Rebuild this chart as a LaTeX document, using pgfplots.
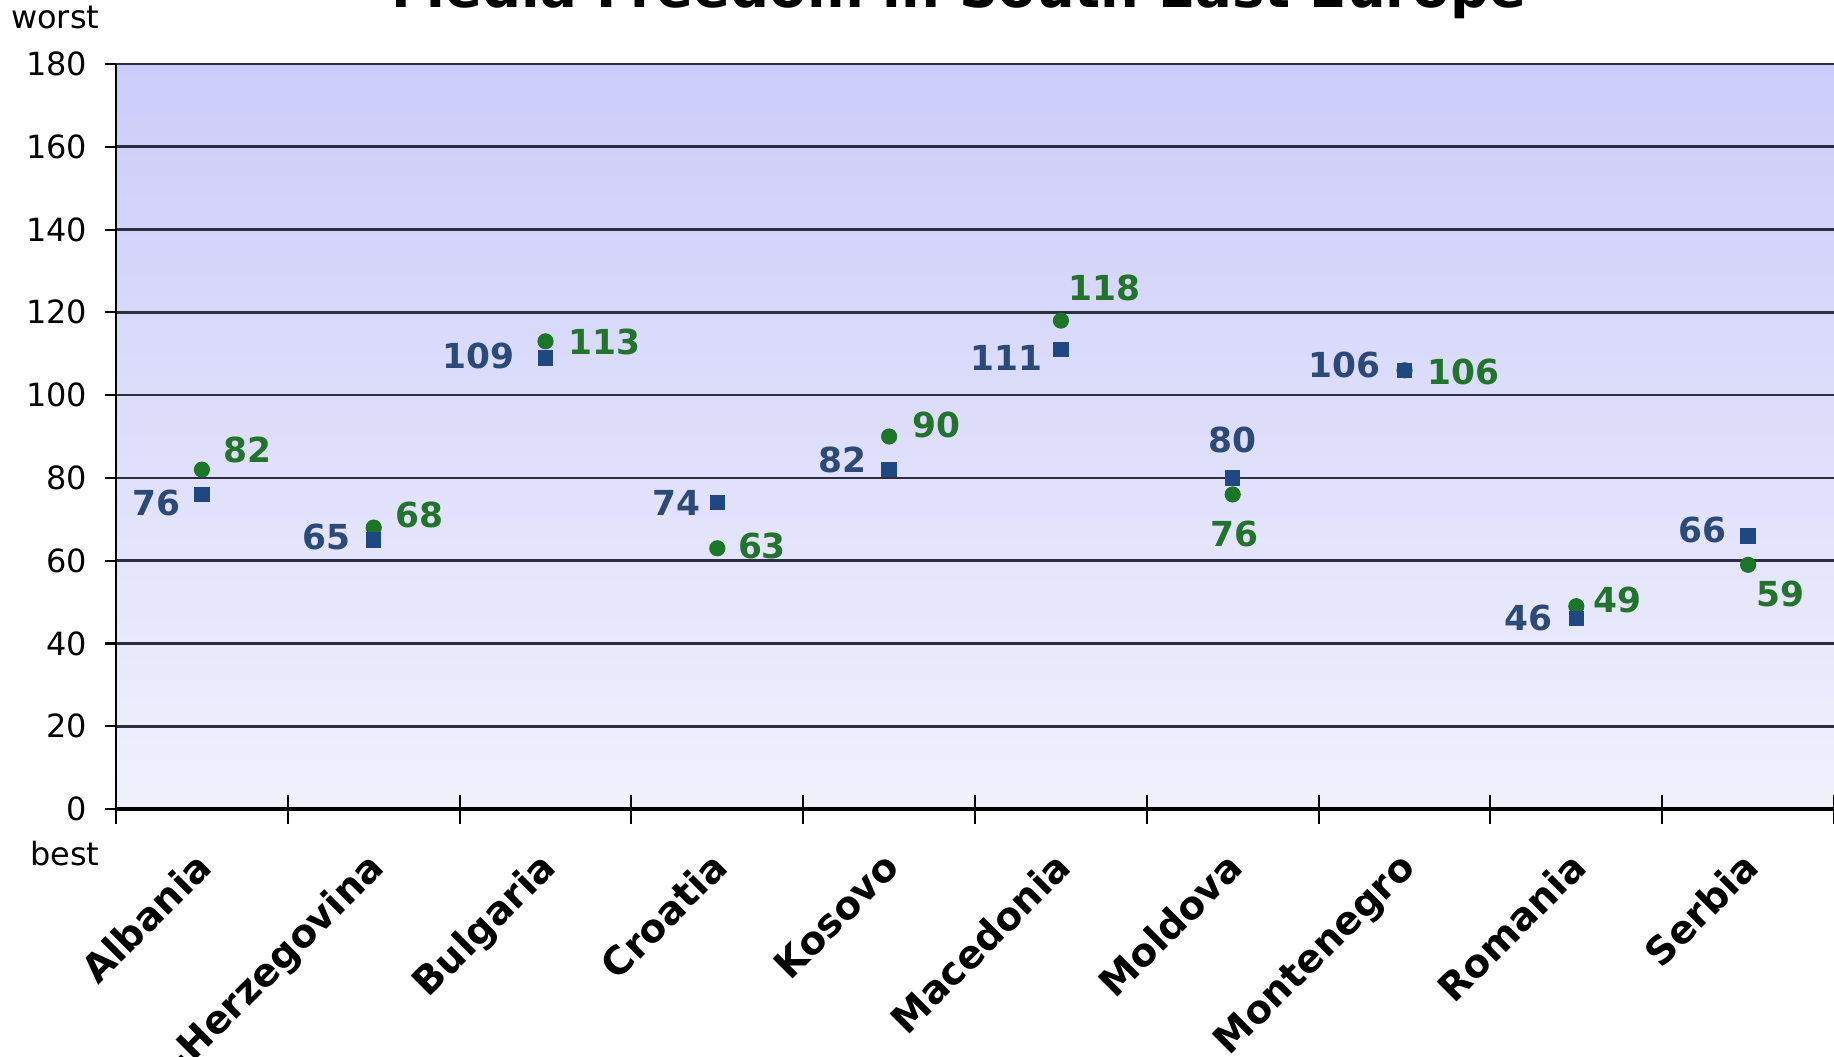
\documentclass[border=0pt]{standalone}
\usepackage{pgfplots}
\pgfplotsset{compat=1.18}
\usepackage{fontspec}
\setmainfont{DejaVu Sans}
\definecolor{sqblue}{RGB}{31,72,130}
\definecolor{lblblue}{RGB}{44,74,120}
\definecolor{cgreen}{RGB}{28,118,40}
\definecolor{lblgreen}{RGB}{34,116,44}
\definecolor{bgtop}{RGB}{204,204,250}
\definecolor{bgbot}{RGB}{241,241,253}
\definecolor{gridc}{RGB}{45,45,65}

\pgfplotsset{
  gpt/.style n args={3}{only marks, mark=*, mark size=2.1pt,
    mark options={draw=cgreen, fill=cgreen},
    nodes near coords, point meta=y,
    nodes near coords style={font=\bfseries\fontsize{9.8}{12}\selectfont, text=lblgreen,
      inner sep=0pt, anchor=#1, xshift=#2mm, yshift=#3mm}},
  bpt/.style n args={3}{only marks, mark=square*, mark size=2.0pt,
    mark options={draw=sqblue, fill=sqblue},
    nodes near coords, point meta=y,
    nodes near coords style={font=\bfseries\fontsize{9.8}{12}\selectfont, text=lblblue,
      inner sep=0pt, anchor=#1, xshift=#2mm, yshift=#3mm}},
}

\begin{document}
\begin{tikzpicture}
\useasboundingbox (-1.16,-2.47) rectangle (17.18,8.09);
\clip (-1.16,-2.47) rectangle (17.18,8.09);
\begin{axis}[
  at={(0,0)}, anchor=south west,
  scale only axis,
  width=17.18cm, height=7.45cm,
  xmin=0, xmax=10, ymin=0, ymax=180,
  axis x line*=bottom, axis y line*=left,
  x axis line style={line width=1.2pt, black},
  y axis line style={line width=0.7pt, black},
  axis background/.style={shade, top color=bgtop, bottom color=bgbot},
  ytick={0,20,...,180},
  ymajorgrids,
  grid style={line width=0.75pt, gridc},
  xtick={0.5,1.5,...,9.5},
  xticklabels={Albania,Bosnia-Herzegovina,Bulgaria,Croatia,Kosovo,Macedonia,Moldova,Montenegro,Romania,Serbia},
  minor xtick={0,1,...,10},
  major x tick style={draw=none},
  minor x tick style={black, line width=0.6pt},
  y tick style={black, line width=0.6pt},
  minor tick length=2.9mm,
  major tick length=1.1mm,
  xtick align=center, ytick align=outside,
  /pgf/number format/assume math mode=true,
  yticklabel style={font=\fontsize{9.1}{11}\selectfont, anchor=east, inner sep=0pt, xshift=-1.7mm},
  xticklabel style={font=\bfseries\fontsize{11.0}{13}\selectfont, rotate=45, anchor=east, inner sep=0pt, text height=0.75em, text depth=0.2em, xshift=-2.98mm, yshift=-3.83mm},
  clip=false,
]
% Series 2 (green circles)
\addplot[gpt={west}{2.1}{2.0}]   coordinates {(0.5,82)};
\addplot[gpt={west}{2.1}{1.3}]   coordinates {(1.5,68)};
\addplot[gpt={west}{2.2}{-0.1}]  coordinates {(2.5,113)};
\addplot[gpt={west}{2.0}{0.2}]   coordinates {(3.5,63)};
\addplot[gpt={west}{2.3}{1.2}]   coordinates {(4.5,90)};
\addplot[gpt={west}{0.7}{3.3}]   coordinates {(5.5,118)};
\addplot[gpt={center}{0.2}{-4.0}] coordinates {(6.5,76)};
\addplot[gpt={west}{2.2}{-0.2}]  coordinates {(7.5,106)};
\addplot[gpt={west}{1.6}{0.6}]   coordinates {(8.5,49)};
\addplot[gpt={west}{0.8}{-2.9}]  coordinates {(9.5,59)};
% Series 1 (blue squares)
\addplot[bpt={east}{-2.1}{-0.9}] coordinates {(0.5,76)};
\addplot[bpt={east}{-2.3}{0.3}]  coordinates {(1.5,65)};
\addplot[bpt={east}{-3.0}{0.2}]  coordinates {(2.5,109)};
\addplot[bpt={east}{-1.6}{0.0}]  coordinates {(3.5,74)};
\addplot[bpt={east}{-2.2}{1.0}]  coordinates {(4.5,82)};
\addplot[bpt={east}{-1.8}{-0.8}] coordinates {(5.5,111)};
\addplot[bpt={center}{0.0}{3.8}] coordinates {(6.5,80)};
\addplot[bpt={east}{-2.3}{0.5}]  coordinates {(7.5,106)};
\addplot[bpt={east}{-2.3}{0.1}]  coordinates {(8.5,46)};
\addplot[bpt={east}{-2.1}{0.6}]  coordinates {(9.5,66)};
\end{axis}
\node[anchor=base, font=\bfseries\fontsize{15.5}{18}\selectfont] at (8.43,8.01) {Media Freedom in South East Europe};
\node[anchor=base east, font=\fontsize{9.1}{11}\selectfont, inner sep=0pt] at (-0.16,7.80) {worst};
\node[anchor=base east, font=\fontsize{9.1}{11}\selectfont, inner sep=0pt] at (-0.16,-0.56) {best};
\end{tikzpicture}
\end{document}
